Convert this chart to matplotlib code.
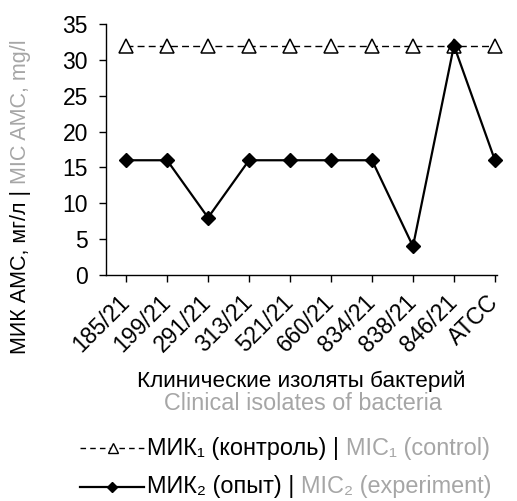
import numpy as np
import matplotlib.pyplot as plt
from matplotlib.lines import Line2D

plt.rcParams['font.family'] = ['Liberation Sans', 'DejaVu Sans']

isolates = ['185/21', '199/21', '291/21', '313/21', '521/21', '660/21',
            '834/21', '838/21', '846/21', 'ATCC']
mic_control = [32, 32, 32, 32, 32, 32, 32, 32, 32, 32]
mic_experiment = [16, 16, 8, 16, 16, 16, 16, 4, 32, 16]

gray = '#a6a6a6'
W, H = 517, 501

fig = plt.figure(figsize=(W / 100, H / 100), dpi=100)
ax = fig.add_axes([106 / W, 1 - 275 / H, 391 / W, 251 / H])

x = np.arange(len(isolates))
ax.plot(x, mic_control, color='black', lw=1.0, ls=(0, (5, 3)), marker='^',
        ms=10.5, mfc='white', mec='black', mew=1.1, clip_on=False, zorder=3)
ax.plot(x, mic_experiment, color='black', lw=1.6, marker='D', ms=7.5,
        mfc='black', mec='black', clip_on=False, zorder=4)

ax.set_xlim(-0.49, 9.05)
ax.set_ylim(0, 35)
ax.set_yticks(range(0, 36, 5))
ax.set_xticks(x)
ax.set_xticklabels(isolates, rotation=45, ha='right', va='center',
                   rotation_mode='anchor', fontsize=16.5)
ax.tick_params(axis='y', labelsize=16.5, length=5, width=1, direction='out', pad=8)
ax.tick_params(axis='x', length=5, width=1, direction='out', pad=12)
for s in ['top', 'right']:
    ax.spines[s].set_visible(False)
for s in ['left', 'bottom']:
    ax.spines[s].set_linewidth(1)

fig.canvas.draw()
r = fig.canvas.get_renderer()


def two_tone(x0, y0, parts, fs, vertical=False, center=None):
    # draw consecutive text pieces, each with its own colour
    texts = []
    for s, c in parts:
        t = fig.text(x0, y0, s, color=c, fontsize=fs,
                     rotation=90 if vertical else 0,
                     va='bottom' if vertical else 'center',
                     ha='center' if vertical else 'left',
                     transform=None)
        texts.append(t)
        bb = t.get_window_extent(r)
        if vertical:
            y0 = bb.y1
        else:
            x0 = bb.x1
    if center is not None:
        b0 = texts[0].get_window_extent(r)
        b1 = texts[-1].get_window_extent(r)
        shift = center - ((b0.y0 + b1.y1) / 2 if vertical else (b0.x0 + b1.x1) / 2)
        for t in texts:
            px, py = t.get_position()
            t.set_position((px, py + shift) if vertical else (px + shift, py))
    return texts


# y label
two_tone(21, 0, [('МИК АМС, мг/л | ', 'black'), ('MIC AMC, mg/l', gray)],
         15.5, vertical=True, center=H - 197)

fig.text(301 / W, 1 - 381 / H, 'Клинические изоляты бактерий',
         ha='center', va='center', fontsize=16.2)
fig.text(303 / W, 1 - 404 / H, 'Clinical isolates of bacteria',
         ha='center', va='center', fontsize=16.8, color=gray)

# legend
y1 = 1 - 448 / H
y2 = 1 - 487 / H
fig.add_artist(Line2D([80 / W, 144 / W], [y1, y1], color='black', lw=1.0,
                      ls=(0, (4, 3))))
fig.add_artist(Line2D([113 / W], [y1], marker='^', ms=7.5, mfc='white',
                      mec='black', mew=1.0, ls='none'))
fig.add_artist(Line2D([80 / W, 144 / W], [y2, y2], color='black', lw=1.6))
fig.add_artist(Line2D([112 / W], [y2], marker='D', ms=5.5, color='black',
                      ls='none'))
two_tone(147, H - 448, [('МИК₁ (контроль) | ', 'black'), ('MIC₁ (control)', gray)], 16.9)
two_tone(147, H - 487, [('МИК₂ (опыт) | ', 'black'), ('MIC₂ (experiment)', gray)], 16.9)

fig.savefig('out.png', dpi=100)
